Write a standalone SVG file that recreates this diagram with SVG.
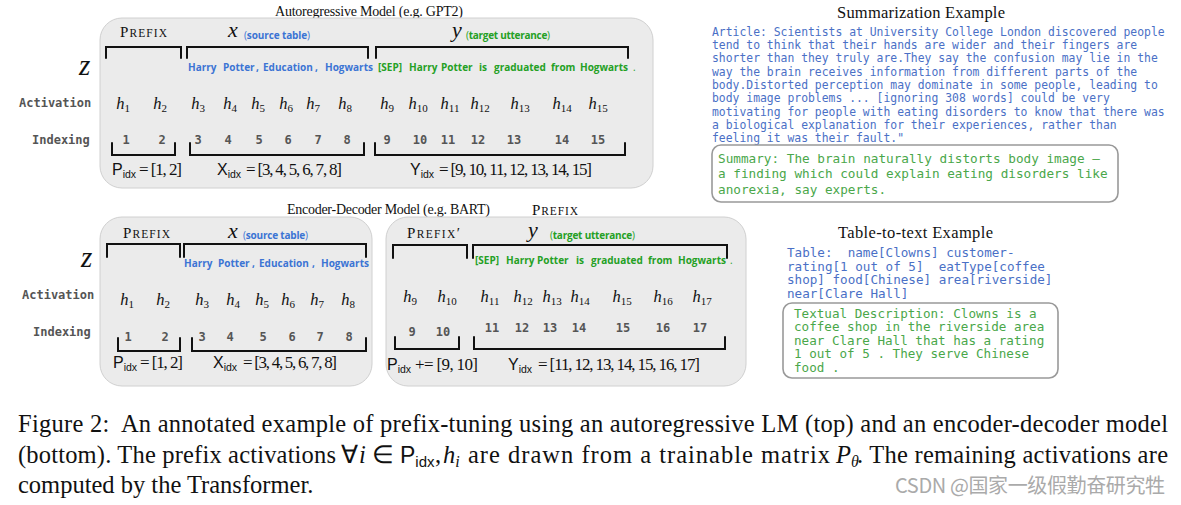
<svg xmlns="http://www.w3.org/2000/svg" width="1181" height="505" viewBox="0 0 1181 505">
<style>
.panel{fill:#ebebeb;stroke:#d0d0d0;stroke-width:1}
.br{fill:none;stroke:#111;stroke-width:2;stroke-linecap:round;stroke-linejoin:miter}
.lbl{font-family:"DejaVu Sans Mono",monospace;font-weight:bold;font-size:12px;fill:#555}
.num{font-family:"DejaVu Sans Mono",monospace;font-weight:bold;font-size:12px;fill:#555;text-anchor:middle}
.h{font-family:"Liberation Serif",serif;font-style:italic;font-size:16.5px;fill:#111;text-anchor:middle}
.sb{font-style:normal;font-size:11px}
.tb{font-family:"Open Sans",sans-serif;font-weight:bold;font-size:10px;fill:#3b74d4}
.tg{font-family:"Open Sans",sans-serif;font-weight:bold;font-size:10px;fill:#24a024}
.srif{font-family:"Liberation Serif",serif;fill:#111}
.math{font-family:"Liberation Serif",serif;font-style:italic;fill:#111}
.sans{font-family:"Liberation Sans",sans-serif;fill:#111}
.mb{font-family:"DejaVu Sans Mono",monospace;fill:#4a70c6}
.mg{font-family:"DejaVu Sans Mono",monospace;fill:#4aa74a}
.box{fill:#fff;stroke:#999;stroke-width:1.6}
.cap{font-family:"Liberation Serif",serif;font-size:24.5px;fill:#111}
</style>

<!-- Top: autoregressive model -->
<g id="ar-title"><text class="srif" x="275" y="16" font-size="14" textLength="188">Autoregressive Model  (e.g. GPT2)</text></g>
<g id="ar-panel">
<rect class="panel" x="100" y="18" width="553" height="170" rx="22"/>
<text class="srif" x="120" y="37" textLength="47"><tspan font-size="15">P</tspan><tspan font-size="11.5">REFIX</tspan></text>
<text class="math" x="228" y="37" font-size="22">x</text>
<text class="tb" x="244" y="39" font-size="9.5" textLength="66"><tspan font-weight="normal">(</tspan>source table<tspan font-weight="normal">)</tspan></text>
<text class="math" x="452" y="37" font-size="22">y</text>
<text class="tg" x="466" y="39" font-size="9.5" textLength="84"><tspan font-weight="normal">(</tspan>target utterance<tspan font-weight="normal">)</tspan></text>
<text class="math" x="79" y="75" font-size="29">z</text>
<g class="tb"><text x="188" y="71">Harry</text><text x="223" y="71">Potter</text><text x="256" y="71">,</text><text x="263" y="71">Education</text><text x="315" y="71">,</text><text x="325" y="71">Hogwarts</text></g>
<g class="tg"><text x="378" y="71">[SEP]</text><text x="409" y="71">Harry</text><text x="441" y="71">Potter</text><text x="479" y="71">is</text><text x="494" y="71">graduated</text><text x="551" y="71">from</text><text x="580" y="71">Hogwarts</text><text x="633" y="71" font-weight="normal">.</text></g>
<text class="lbl" x="19" y="107">Activation</text>
<text class="lbl" x="32" y="144">Indexing</text>
<g class="h">
<text x="123" y="109">h<tspan class="sb" dy="3">1</tspan></text>
<text x="160" y="109">h<tspan class="sb" dy="3">2</tspan></text>
<text x="198" y="109">h<tspan class="sb" dy="3">3</tspan></text>
<text x="230" y="109">h<tspan class="sb" dy="3">4</tspan></text>
<text x="258" y="109">h<tspan class="sb" dy="3">5</tspan></text>
<text x="286" y="109">h<tspan class="sb" dy="3">6</tspan></text>
<text x="313" y="109">h<tspan class="sb" dy="3">7</tspan></text>
<text x="345" y="109">h<tspan class="sb" dy="3">8</tspan></text>
<text x="387" y="109">h<tspan class="sb" dy="3">9</tspan></text>
<text x="418" y="109">h<tspan class="sb" dy="3">10</tspan></text>
<text x="450" y="109">h<tspan class="sb" dy="3">11</tspan></text>
<text x="480" y="109">h<tspan class="sb" dy="3">12</tspan></text>
<text x="520" y="109">h<tspan class="sb" dy="3">13</tspan></text>
<text x="562" y="109">h<tspan class="sb" dy="3">14</tspan></text>
<text x="598" y="109">h<tspan class="sb" dy="3">15</tspan></text>
</g>
<g class="num">
<text x="126" y="144">1</text><text x="162" y="144">2</text><text x="198" y="144">3</text><text x="228" y="144">4</text><text x="259" y="144">5</text><text x="288" y="144">6</text><text x="318" y="144">7</text><text x="347" y="144">8</text><text x="387" y="144">9</text><text x="420" y="144">10</text><text x="448" y="144">11</text><text x="478" y="144">12</text><text x="514" y="144">13</text><text x="562" y="144">14</text><text x="598" y="144">15</text>
</g>
<text class="sans" x="112" y="175" font-size="16">P<tspan font-size="10.5" dy="3">idx</tspan></text>
<text class="srif" x="139" y="175" font-size="17" textLength="43">= [1, 2]</text>
<text class="sans" x="217" y="175" font-size="16">X<tspan font-size="10.5" dy="3">idx</tspan></text>
<text class="srif" x="246" y="175" font-size="17" textLength="96">= [3, 4, 5, 6, 7, 8]</text>
<text class="sans" x="410" y="175" font-size="16">Y<tspan font-size="10.5" dy="3">idx</tspan></text>
<text class="srif" x="439" y="175" font-size="17" textLength="153">= [9, 10, 11, 12, 13, 14, 15]</text>
</g>

<!-- Bottom: encoder-decoder model -->
<g id="ed-title">
<text class="srif" x="287" y="214" font-size="14" textLength="203">Encoder-Decoder Model  (e.g. BART)</text>
<text class="srif" x="532" y="215" textLength="46"><tspan font-size="15">P</tspan><tspan font-size="11.5">REFIX</tspan></text>
</g>
<g id="ed-encoder">
<rect class="panel" x="100" y="217" width="272" height="169" rx="22"/>
<text class="srif" x="123" y="238" textLength="47"><tspan font-size="15">P</tspan><tspan font-size="11.5">REFIX</tspan></text>
<text class="math" x="228" y="238" font-size="22">x</text>
<text class="tb" x="243" y="239" font-size="9.5" textLength="65"><tspan font-weight="normal">(</tspan>source table<tspan font-weight="normal">)</tspan></text>
<text class="math" x="81" y="267" font-size="29">z</text>
<g class="tb"><text x="184" y="267">Harry</text><text x="218" y="267">Potter</text><text x="252" y="267">,</text><text x="259" y="267">Education</text><text x="312" y="267">,</text><text x="321" y="267">Hogwarts</text></g>
<text class="lbl" x="22" y="299">Activation</text>
<text class="lbl" x="33" y="336">Indexing</text>
<g class="h">
<text x="127" y="305">h<tspan class="sb" dy="3">1</tspan></text>
<text x="163" y="305">h<tspan class="sb" dy="3">2</tspan></text>
<text x="202" y="305">h<tspan class="sb" dy="3">3</tspan></text>
<text x="233" y="305">h<tspan class="sb" dy="3">4</tspan></text>
<text x="262" y="305">h<tspan class="sb" dy="3">5</tspan></text>
<text x="288" y="305">h<tspan class="sb" dy="3">6</tspan></text>
<text x="317" y="305">h<tspan class="sb" dy="3">7</tspan></text>
<text x="348" y="305">h<tspan class="sb" dy="3">8</tspan></text>
</g>
<g class="num">
<text x="128" y="341">1</text><text x="165" y="341">2</text><text x="202" y="341">3</text><text x="230" y="341">4</text><text x="263" y="341">5</text><text x="292" y="341">6</text><text x="320" y="341">7</text><text x="349" y="341">8</text>
</g>
<text class="sans" x="113" y="368" font-size="16">P<tspan font-size="10.5" dy="3">idx</tspan></text>
<text class="srif" x="140" y="368" font-size="17" textLength="43">= [1, 2]</text>
<text class="sans" x="213" y="368" font-size="16">X<tspan font-size="10.5" dy="3">idx</tspan></text>
<text class="srif" x="243" y="368" font-size="17" textLength="94">= [3, 4, 5, 6, 7, 8]</text>
</g>
<g id="ed-decoder">
<rect class="panel" x="386" y="217" width="360" height="169" rx="22"/>
<text class="srif" x="407" y="238" textLength="53"><tspan font-size="15">P</tspan><tspan font-size="11.5">REFIX</tspan><tspan font-size="15">′</tspan></text>
<text class="math" x="528" y="237" font-size="22">y</text>
<text class="tg" x="550" y="239" font-size="9.5" textLength="85"><tspan font-weight="normal">(</tspan>target utterance<tspan font-weight="normal">)</tspan></text>
<g class="tg" font-size="9.3"><text x="475" y="264">[SEP]</text><text x="506" y="264">Harry</text><text x="537" y="264">Potter</text><text x="576" y="264">is</text><text x="591" y="264">graduated</text><text x="648" y="264">from</text><text x="678" y="264">Hogwarts</text><text x="730" y="264" font-weight="normal">.</text></g>
<g class="h">
<text x="410" y="302">h<tspan class="sb" dy="3">9</tspan></text>
<text x="447" y="302">h<tspan class="sb" dy="3">10</tspan></text>
<text x="490" y="302">h<tspan class="sb" dy="3">11</tspan></text>
<text x="523" y="302">h<tspan class="sb" dy="3">12</tspan></text>
<text x="552" y="302">h<tspan class="sb" dy="3">13</tspan></text>
<text x="580" y="302">h<tspan class="sb" dy="3">14</tspan></text>
<text x="622" y="302">h<tspan class="sb" dy="3">15</tspan></text>
<text x="663" y="302">h<tspan class="sb" dy="3">16</tspan></text>
<text x="702" y="302">h<tspan class="sb" dy="3">17</tspan></text>
</g>
<g class="num">
<text x="412" y="336">9</text><text x="443" y="336">10</text><text x="492" y="332">11</text><text x="522" y="332">12</text><text x="550" y="332">13</text><text x="579" y="332">14</text><text x="623" y="332">15</text><text x="663" y="332">16</text><text x="700" y="332">17</text>
</g>
<text class="sans" x="387" y="370" font-size="16">P<tspan font-size="10.5" dy="3">idx</tspan></text>
<text class="srif" x="415" y="370" font-size="17" textLength="63">+= [9, 10]</text>
<text class="sans" x="508" y="370" font-size="16">Y<tspan font-size="10.5" dy="3">idx</tspan></text>
<text class="srif" x="538" y="370" font-size="17" textLength="162">= [11, 12, 13, 14, 15, 16, 17]</text>
</g>

<!-- brackets -->
<g id="connectors">
<path class="br" d="M106,58V47H181V58"/>
<path class="br" d="M187,58V47H368V58"/>
<path class="br" d="M376,58V47H628V58"/>
<path class="br" d="M112,143V155H175V143"/>
<path class="br" d="M190,143V155H364V143"/>
<path class="br" d="M375,143V155H625V143"/>
<path class="br" d="M107,257V244H180V257"/>
<path class="br" d="M184,257V244H366V257"/>
<path class="br" d="M118,338V351H180V338"/>
<path class="br" d="M192,338V351H366V338"/>
<path class="br" d="M393,258V245H467V258"/>
<path class="br" d="M473,258V245H727V258"/>
<path class="br" d="M395,337V349H459V337"/>
<path class="br" d="M474,337V349H725V337"/>
</g>

<!-- Summarization example -->
<g id="summarization">
<text class="srif" x="837" y="18" font-size="16.5" textLength="168">Summarization Example</text>
<g class="mb" font-size="11.4">
<text x="712" y="36">Article: Scientists at University College London discovered people</text>
<text x="712" y="49">tend to think that their hands are wider and their fingers are</text>
<text x="712" y="62">shorter than they truly are.They say the confusion may lie in the</text>
<text x="712" y="76">way the brain receives information from different parts of the</text>
<text x="712" y="89">body.Distorted perception may dominate in some people, leading to</text>
<text x="712" y="102">body image problems ... [ignoring 308 words] could be very</text>
<text x="712" y="116">motivating for people with eating disorders to know that there was</text>
<text x="712" y="129">a biological explanation for their experiences, rather than</text>
<text x="712" y="142">feeling it was their fault."</text>
</g>
<rect class="box" x="712" y="145" width="406" height="57" rx="9"/>
<g class="mg" font-size="12.7">
<text x="718" y="163">Summary: The brain naturally distorts body image –</text>
<text x="718" y="178">a finding which could explain eating disorders like</text>
<text x="718" y="194">anorexia, say experts.</text>
</g>
</g>

<!-- Table-to-text example -->
<g id="table-to-text">
<text class="srif" x="838" y="238" font-size="16.5" textLength="155">Table-to-text Example</text>
<g class="mb" font-size="12.6">
<text x="787" y="257" xml:space="preserve">Table:  name[Clowns] customer-</text>
<text x="787" y="271" xml:space="preserve">rating[1 out of 5]  eatType[coffee</text>
<text x="787" y="284">shop] food[Chinese] area[riverside]</text>
<text x="787" y="298">near[Clare Hall]</text>
</g>
<rect class="box" x="783" y="303" width="275" height="75" rx="9"/>
<g class="mg" font-size="12.6">
<text x="794" y="318">Textual Description: Clowns is a</text>
<text x="794" y="331">coffee shop in the riverside area</text>
<text x="794" y="345">near Clare Hall that has a rating</text>
<text x="794" y="358">1 out of 5 . They serve Chinese</text>
<text x="794" y="372">food .</text>
</g>
</g>

<!-- Caption -->
<g id="caption">
<text class="cap" x="18" y="432" textLength="1150" xml:space="preserve">Figure 2:  An annotated example of prefix-tuning using an autoregressive LM (top) and an encoder-decoder model</text>
<text class="cap" x="18" y="463" textLength="318">(bottom). The prefix activations</text>
<text class="cap" x="341" y="463">∀<tspan font-style="italic" dx="1">i</tspan></text>
<text class="cap" x="372" y="463">∈</text>
<text class="sans" x="400" y="463" font-size="23">P<tspan font-size="15" dy="4">idx</tspan></text>
<text class="cap" x="435" y="463">,</text>
<text class="cap" x="443" y="463" font-style="italic">h<tspan font-size="16" dy="4">i</tspan></text>
<text class="cap" x="468" y="463" textLength="362">are drawn from a trainable matrix</text>
<text class="cap" x="836" y="463" font-style="italic">P<tspan font-size="16" dy="4">θ</tspan></text>
<text class="cap" x="857" y="463" textLength="311">. The remaining activations are</text>
<text class="cap" x="18" y="493">computed by the Transformer.</text>
</g>
<g id="watermark">
<text x="895" y="493" font-family="'Noto Sans CJK SC','Noto Sans',sans-serif" font-size="20" fill="#aaaaaa" textLength="270">CSDN @国家一级假勤奋研究牲</text>
</g>
</svg>
